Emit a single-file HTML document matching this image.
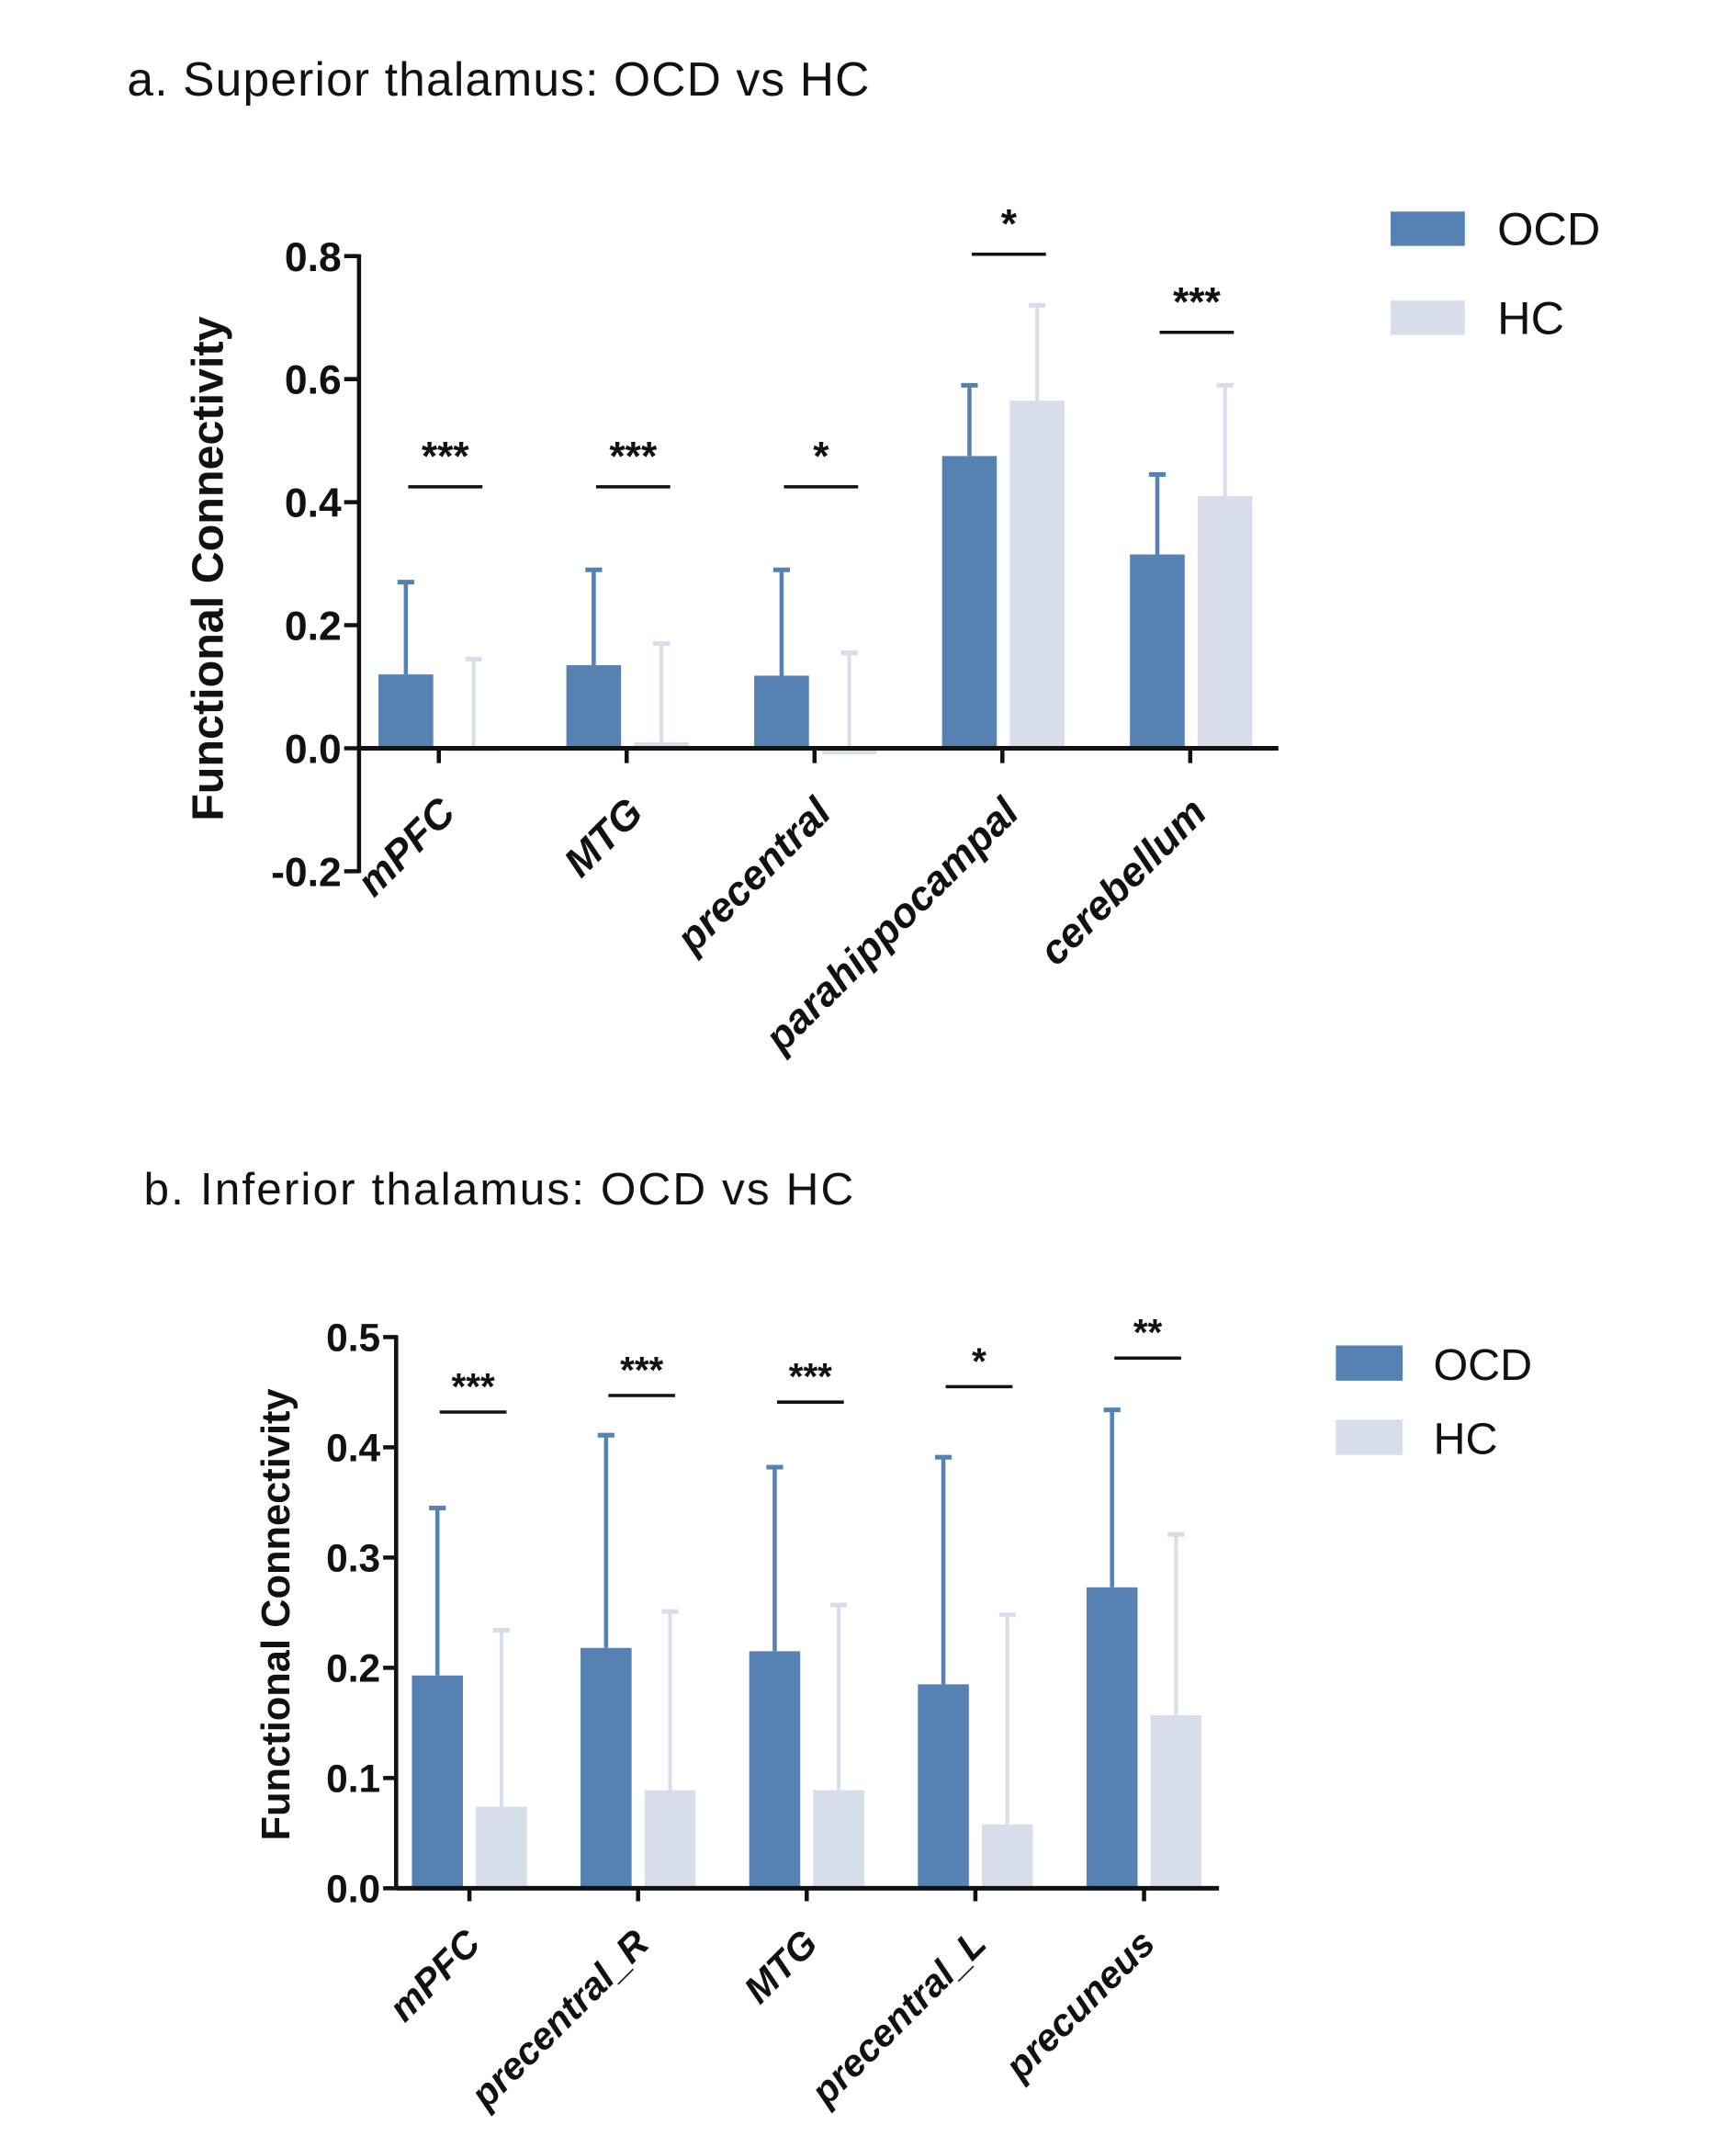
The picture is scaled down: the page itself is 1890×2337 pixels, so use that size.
<!DOCTYPE html>
<html><head><meta charset="utf-8">
<style>
html,body{margin:0;padding:0;background:#fff;}
svg{display:block;font-family:"Liberation Sans",Arial,sans-serif;}
</style></head>
<body>
<svg id="fig" width="1890" height="2337" viewBox="0 0 1890 2337" xmlns="http://www.w3.org/2000/svg">
<rect width="1890" height="2337" fill="#fff"/>
<g transform="scale(1.01)">
<text x="137" y="103" font-size="51" textLength="800" fill="#111">a. Superior thalamus: OCD vs HC</text>
<text x="155" y="1298" font-size="49" textLength="765" fill="#111">b. Inferior thalamus: OCD vs HC</text>
<g id="chartA"></g>
<g id="chartB"></g>
</g>
</svg>
<script>
// ---- Chart A data ----
const catsA = ["mPFC","MTG","precentral","parahippocampal","cerebellum"];
const ocdA = [0.12,0.135,0.118,0.475,0.315];
const ocdErrA = [0.27,0.29,0.29,0.59,0.445];
const hcA = [-0.005,0.01,-0.01,0.565,0.41];
const hcErrA = [0.145,0.17,0.155,0.72,0.59];
const sigYA = [0.425,0.425,0.425,0.803,0.676];
const sigA = ["***","***","*","*","***"];
const ticksA = [-0.2,0.0,0.2,0.4,0.6,0.8];
// ---- Chart B data ----
const catsB = ["mPFC","precentral_R","MTG","precentral_L","precuneus"];
const ocdB = [0.193,0.218,0.215,0.185,0.273];
const ocdErrB = [0.345,0.411,0.382,0.391,0.434];
const hcB = [0.074,0.089,0.089,0.058,0.157];
const hcErrB = [0.234,0.251,0.257,0.248,0.321];
const sigYB = [0.432,0.447,0.441,0.455,0.481];
const sigB = ["***","***","***","*","**"];
const ticksB = [0.0,0.1,0.2,0.3,0.4,0.5];

const NS="http://www.w3.org/2000/svg";
const OCD="#5681b3", HC="#d7deea";
function mk(p,tag,at){const e=document.createElementNS(NS,tag);for(const k in at)e.setAttribute(k,at[k]);p.appendChild(e);return e;}

function draw(g,cfg){
  const y=v=>cfg.y0+(v-cfg.ymin)/(cfg.ymax-cfg.ymin)*(cfg.y1-cfg.y0);
  const xc=i=>cfg.c0+i*cfg.step;
  const zero=y(0);
  cfg.cats.forEach((c,i)=>{
    const cx=xc(i);
    let e=mk(g,'line',{x1:cx+cfg.hOff+cfg.bw/2,x2:cx+cfg.hOff+cfg.bw/2,y1:y(cfg.hc[i]),y2:y(cfg.hcErr[i]),stroke:HC,'stroke-width':4});
    
    
    e=mk(g,'line',{x1:cx+cfg.hOff+cfg.bw/2-9,x2:cx+cfg.hOff+cfg.bw/2+9,y1:y(cfg.hcErr[i]),y2:y(cfg.hcErr[i]),stroke:HC,'stroke-width':5});
    
    
    let r=mk(g,'rect',{x:cx+cfg.hOff,y:Math.min(y(cfg.hc[i]),zero),width:cfg.bw,height:Math.max(Math.abs(y(cfg.hc[i])-zero),3),fill:HC});
    
    
    e=mk(g,'line',{x1:cx+cfg.oOff+cfg.bw/2,x2:cx+cfg.oOff+cfg.bw/2,y1:y(cfg.ocd[i]),y2:y(cfg.ocdErr[i]),stroke:OCD,'stroke-width':4.5});
    
    
    e=mk(g,'line',{x1:cx+cfg.oOff+cfg.bw/2-9,x2:cx+cfg.oOff+cfg.bw/2+9,y1:y(cfg.ocdErr[i]),y2:y(cfg.ocdErr[i]),stroke:OCD,'stroke-width':5});
    
    
    r=mk(g,'rect',{x:cx+cfg.oOff,y:y(cfg.ocd[i]),width:cfg.bw,height:zero-y(cfg.ocd[i]),fill:OCD});
    
    
    const sy=y(cfg.sigY[i]);
    e=mk(g,'line',{x1:cx+cfg.sigOff-cfg.sigHW,x2:cx+cfg.sigOff+cfg.sigHW,y1:sy,y2:sy,stroke:'#111','stroke-width':3.5});
    
    
    const t=mk(g,'text',{x:cx+cfg.sigOff,y:sy-cfg.sigGap,'text-anchor':'middle','font-size':cfg.sigFs,'font-weight':'bold',fill:'#111'});
    t.textContent=cfg.sig[i];
    
    
    e=mk(g,'line',{x1:cx,x2:cx,y1:zero,y2:zero+cfg.tickLen,stroke:'#111','stroke-width':4.5});
    
    
    const lx=cx+cfg.lblDx, ly=zero+cfg.lblDy;
    const l=mk(g,'text',{x:lx,y:ly,'text-anchor':'end','font-size':cfg.lblFs,'font-weight':'bold','font-style':'italic',fill:'#111',transform:`rotate(-45 ${lx} ${ly})`});
    l.textContent=c;
    
    
  });
  let a=mk(g,'line',{x1:cfg.ax,x2:cfg.ax,y1:y(cfg.ymin)+2,y2:y(cfg.ymax)-2,stroke:'#111','stroke-width':4.5});
  
  
  a=mk(g,'line',{x1:cfg.ax,x2:cfg.xEnd,y1:zero,y2:zero,stroke:'#111','stroke-width':5});
  
  
  cfg.ticks.forEach(v=>{
    let t=mk(g,'line',{x1:cfg.ax-cfg.tickLen,x2:cfg.ax,y1:y(v),y2:y(v),stroke:'#111','stroke-width':4.5});
    
    
    const s=mk(g,'text',{x:cfg.ax-cfg.tickLen-3,y:y(v)+cfg.tFs*0.36,'text-anchor':'end','font-size':cfg.tFs,'font-weight':'bold',fill:'#111'});
    s.textContent=v.toFixed(1);
    
    
  });
  const yl=mk(g,'text',{x:cfg.ylx,y:cfg.yly,'text-anchor':'middle','font-size':cfg.ylFs,'font-weight':'bold',fill:'#111',transform:`rotate(-90 ${cfg.ylx} ${cfg.yly})`});
  yl.textContent='Functional Connectivity';
  
  
  [['OCD',OCD,cfg.legY1],['HC',HC,cfg.legY2]].forEach(([n,col,ly])=>{
    const lr=mk(g,'rect',{x:cfg.legX,y:ly,width:cfg.legW,height:cfg.legH,fill:col});
    
    
    const lt=mk(g,'text',{x:cfg.legTx,y:ly+cfg.legH-1,'font-size':cfg.legFs,fill:'#111'});
    lt.textContent=n;
    
    
  });
}

draw(document.getElementById('chartA'),{
  cats:catsA,ocd:ocdA,ocdErr:ocdErrA,hc:hcA,hcErr:hcErrA,sigY:sigYA,sig:sigA,ticks:ticksA,
  ymin:-0.2,ymax:0.8,y0:939,y1:276,ax:387,xEnd:1378,c0:473,step:202.5,bw:59,oOff:-65,hOff:8,
  sigOff:7,sigHW:40,sigGap:18,sigFs:44,tickLen:16,tFs:44,lblDx:20,lblDy:72,lblFs:44,
  ylx:240,yly:613,ylFs:48,legX:1499,legW:80,legH:37,legY1:228,legY2:324,legTx:1614,legFs:50
});
draw(document.getElementById('chartB'),{
  cats:catsB,ocd:ocdB,ocdErr:ocdErrB,hc:hcB,hcErr:hcErrB,sigY:sigYB,sig:sigB,ticks:ticksB,
  ymin:0,ymax:0.5,y0:2035,y1:1441,ax:427,xEnd:1314,c0:506,step:181.8,bw:55,oOff:-62,hOff:7,
  sigOff:4,sigHW:36,sigGap:14,sigFs:40,tickLen:14,tFs:42,lblDx:14,lblDy:62,lblFs:41,
  ylx:312,yly:1740,ylFs:43,legX:1440,legW:72,legH:38,legY1:1450,legY2:1530,legTx:1545,legFs:48
});
</script>
</body></html>
